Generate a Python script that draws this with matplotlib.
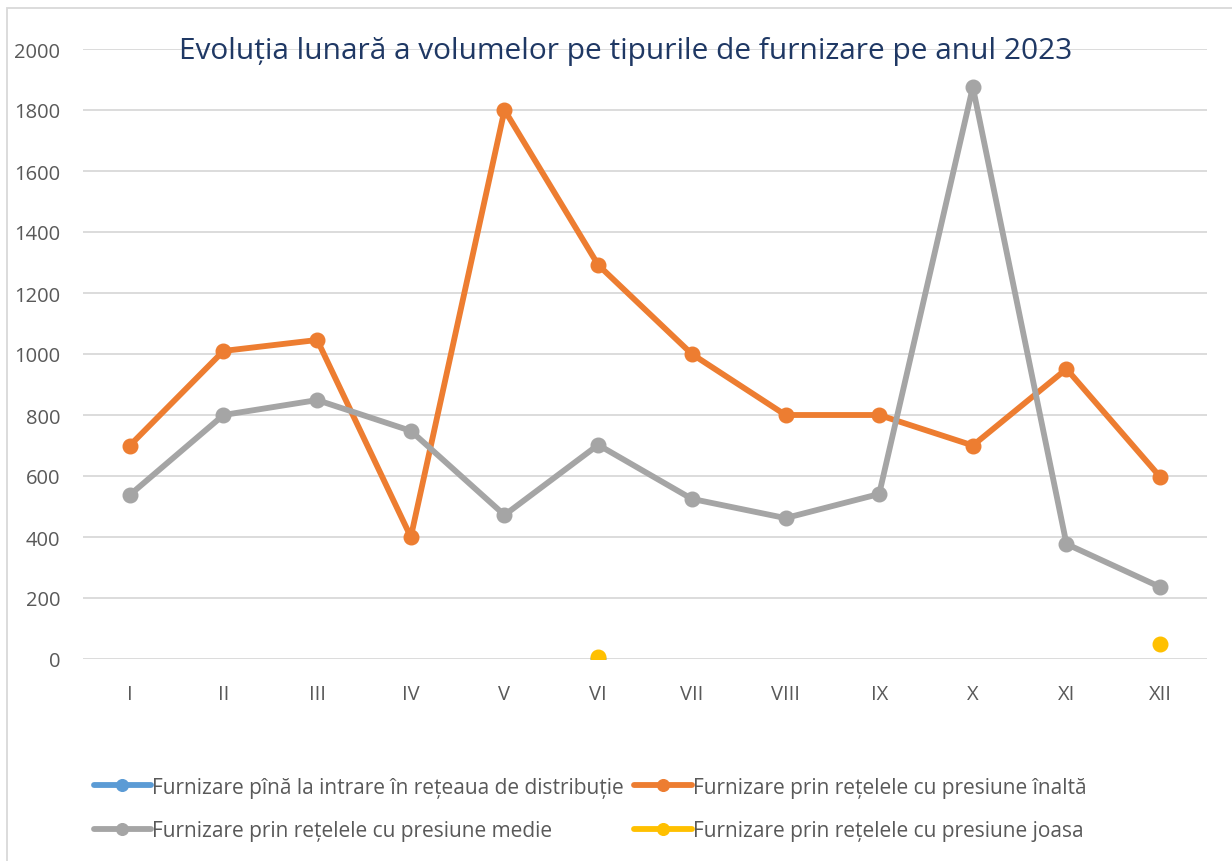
import matplotlib
matplotlib.use("Agg")
import matplotlib.pyplot as plt
import numpy as np
from matplotlib.patches import Rectangle

months = ["I", "II", "III", "IV", "V", "VI", "VII", "VIII", "IX", "X", "XI", "XII"]
nan = np.nan
pina_intrare = [nan, nan, nan, nan, nan, 0, nan, nan, nan, nan, nan, nan]
presiune_inalta = [700, 1010, 1046, 400, 1800, 1292, 1000, 800, 800, 700, 951, 597]
presiune_medie = [538, 800, 849, 748, 472, 702, 525, 462, 541, 1875, 377, 236]
presiune_joasa = [nan, nan, nan, nan, nan, 8, nan, nan, nan, nan, nan, 49]

labels = [
    "Furnizare pînă la intrare în rețeaua de distribuție",
    "Furnizare prin rețelele cu presiune înaltă",
    "Furnizare prin rețelele cu presiune medie",
    "Furnizare prin rețelele cu presiune joasa",
]
colors = ["#5B9BD5", "#ED7D31", "#A5A5A5", "#FFC000"]
yticks = [0, 200, 400, 600, 800, 1000, 1200, 1400, 1600, 1800, 2000]

plt.rcParams['font.family'] = ['Open Sans', 'DejaVu Sans']
W, H = 1232, 862
fig = plt.figure(figsize=(W / 100, H / 100), dpi=100)
ax = fig.add_axes([83 / W, 1 - 660 / H, (1207 - 83) / W, (660 - 50) / H])

x = np.arange(len(months))
series = [pina_intrare, presiune_inalta, presiune_medie, presiune_joasa]
handles = []
for s, c, l in zip(series, colors, labels):
    h, = ax.plot(x, s, color=c, lw=4.2, marker='o', ms=10.5, label=l,
                 solid_capstyle='round', zorder=3)
    handles.append(h)
ax.set_xlim(-0.5, 11.5)
ax.set_ylim(0, 2000)
ax.set_yticks(yticks)
ax.set_xticks(x)
ax.set_xticklabels(months)
ax.grid(axis='y', color='#D9D9D9', lw=1.3, zorder=0)
ax.set_axisbelow(True)
for sp in ax.spines.values():
    sp.set_visible(False)
ax.tick_params(axis='both', length=0, labelsize=14.5, colors='#595959')
ax.tick_params(axis='y', pad=16.5)
ax.tick_params(axis='x', pad=18)

fig.text(626 / W, 1 - 52 / H, "Evoluția lunară a volumelor pe tipurile de furnizare pe anul 2023",
         ha='center', va='center', fontsize=21.5, color='#1F3864')

# legend order row-major: column 1 = [0, 2], column 2 = [1, 3]
order = [0, 2, 1, 3]
leg = fig.legend(handles=[handles[i] for i in order], labels=[labels[i] for i in order],
                 ncol=2, loc='center',
                 bbox_to_anchor=(590 / W, 1 - 810 / H), frameon=False,
                 fontsize=15, labelcolor='#595959', handlelength=2.75,
                 handletextpad=0.05, columnspacing=0.5, labelspacing=1.1,
                 markerscale=0.8)

fig.patches.append(Rectangle((7 / W, -0.1), 1.2, 1 - 9 / H + 0.1, transform=fig.transFigure,
                             fill=False, edgecolor='#D9D9D9', lw=1.3))

fig.savefig("out.png", dpi=100)
